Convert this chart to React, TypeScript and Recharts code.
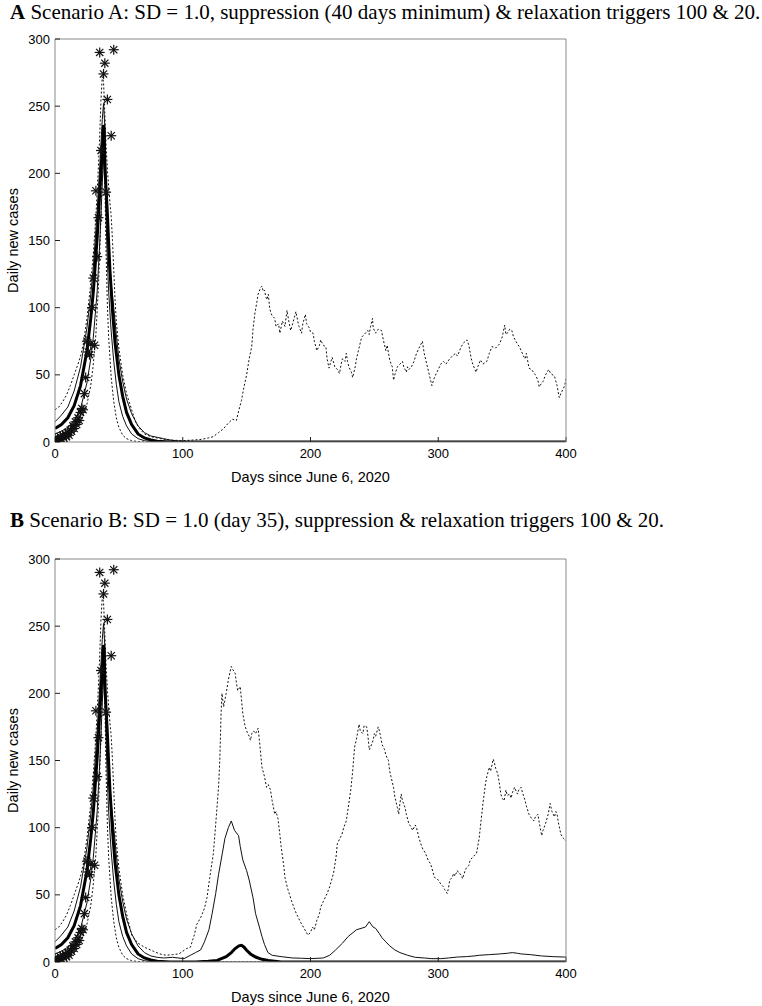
import { ComposedChart, Line, Scatter, XAxis, YAxis } from "recharts";

const SANS = "'Liberation Sans', Arial, Helvetica, sans-serif";
const SERIF = "'Liberation Serif', 'Times New Roman', serif";

const dayTicks = [0, 100, 200, 300, 400];
const caseTicks = [0, 50, 100, 150, 200, 250, 300];

type Pt = [number, number];

// observed daily cases (stars)
const observed: Pt[] = [
  [0, 3], [1, 1], [2, 2], [3, 0], [4, 4], [5, 2], [6, 5], [7, 3], [8, 6], [9, 4],
  [10, 7], [11, 5], [12, 9], [13, 8], [14, 12], [15, 10], [16, 15], [17, 13], [18, 18], [19, 16],
  [20, 22], [21, 25], [22, 24], [23, 36], [24, 48], [25, 75], [26, 67], [27, 65], [28, 73], [29, 100],
  [30, 122], [31, 72], [32, 187], [33, 138], [34, 167], [35, 290], [36, 217], [38, 274], [39, 282],
  [40, 186], [41, 255], [44, 228], [46, 292],
];

// median (thick)
const medianEarly: Pt[] = [
  [0, 10], [5, 13], [10, 18], [15, 27], [20, 42], [25, 68], [28, 92], [30, 112], [33, 152], [35, 185],
  [37, 218], [38, 236], [38.5, 232], [39, 205], [40, 188], [41, 170], [42, 148], [43, 128], [45, 98],
  [47, 74], [50, 50], [53, 34], [56, 22], [60, 13], [65, 6], [70, 3], [75, 1.5], [80, 0.6], [90, 0],
];
const medianTailA: Pt[] = [[400, 0]];
const medianTailB: Pt[] = [
  [110, 0], [120, 0.5], [127, 1.2], [134, 4], [138, 7], [141, 10], [144, 12], [146, 12.4], [148, 11],
  [150, 8.7], [153, 6], [157, 3.7], [162, 2], [167, 1.2], [177, 0], [400, 0],
];

// upper quartile (thin)
const q75Early: Pt[] = [
  [0, 15], [5, 20], [10, 26], [15, 38], [20, 56], [25, 85], [28, 110], [30, 130], [33, 172], [35, 205],
  [37, 240], [38, 252], [39, 235], [40, 198], [41, 160], [42, 132], [43, 122], [44, 118], [46, 100],
  [48, 80], [50, 62], [53, 45], [56, 32], [60, 21], [65, 12], [70, 7], [75, 4.5], [80, 3.5],
];
const q75TailA: Pt[] = [[85, 2.5], [90, 1.5], [95, 0.8], [100, 0.3], [105, 0], [400, 0]];
const q75TailB: Pt[] = [
  [85, 3], [92, 3.5], [101, 2.5], [106, 5], [110, 7], [114, 9], [117, 15], [120.5, 24], [123, 36],
  [125.8, 51], [128, 65], [131, 81], [133, 92], [135.7, 100], [138, 105], [140.5, 98], [143.7, 94],
  [145, 86], [147, 76], [150, 68], [152, 61], [155, 48], [157, 36], [160, 26], [162, 19], [164, 13],
  [166.7, 7], [170, 5], [177, 4], [186, 3], [193, 2.8], [200, 2.5], [210, 3], [215, 5], [219.7, 9],
  [225, 14], [229.5, 19], [236, 24], [243, 26], [246, 30], [249, 26], [251, 25], [254, 21], [256, 18],
  [259, 15], [262, 12], [266, 9], [270, 7], [276, 5], [282, 3.5], [289, 3], [295, 2.5], [302, 2.5],
  [308, 3], [315, 3.7], [322, 4], [328, 4.5], [332, 5], [340, 5.5], [348, 6], [354, 6.5], [358, 7],
  [362, 6.5], [365, 6], [372, 5.5], [381, 4.5], [390, 4], [398, 3.7], [400, 3.7],
];

// lower quartile (thin)
const q25: Pt[] = [
  [0, 6], [5, 8], [10, 11], [15, 16], [20, 25], [25, 44], [28, 62], [30, 78], [33, 112], [35, 148],
  [37, 192], [38, 214], [39, 200], [40, 165], [41, 135], [42, 112], [44, 82], [46, 60], [48, 43],
  [50, 30], [53, 19], [56, 12], [60, 6], [65, 2.5], [70, 1], [75, 0.3], [80, 0], [400, 0],
];

// lower 2.5% band (dashed)
const p025: Pt[] = [
  [0, 1], [5, 2], [10, 4], [15, 7], [20, 14], [25, 28], [28, 42], [30, 58], [32, 80], [34, 115],
  [36, 168], [37, 205], [38, 228], [39, 195], [40, 140], [41, 102], [42, 78], [44, 48], [46, 30],
  [48, 18], [50, 11], [53, 5], [56, 2.5], [60, 1], [65, 0.3], [70, 0], [400, 0],
];

// upper 97.5% band (dashed)
const p975Early: Pt[] = [
  [0, 24], [3, 26], [6, 30], [9, 35], [12, 42], [15, 50], [18, 58], [20, 64], [22, 72], [25, 92],
  [28, 118], [30, 140], [32, 168], [34, 205], [35, 228], [36, 255], [37, 272], [38, 268], [39, 245],
  [40, 220], [41, 203], [42, 190], [43, 178], [44, 168], [45, 150], [46, 128], [47, 106], [48, 90],
  [50, 70], [53, 50], [56, 36],
];
const p975TailA: Pt[] = [
  [60, 24], [63, 15], [66, 10], [70, 6], [75, 4], [80, 3], [85, 2], [90, 1.5], [100, 1], [109, 1.5],
  [115, 2], [120, 3], [124, 4], [128, 7], [132, 10], [135.6, 14], [139, 17], [142, 16], [144, 24],
  [146, 31], [147.5, 39], [150, 50], [152, 62], [154, 71], [155, 84], [156.5, 96], [158, 104],
  [159, 110], [161, 115], [162, 116], [163, 112], [164, 113], [165, 108], [166, 106], [167, 110],
  [168, 100], [169, 96], [170, 94], [172, 92], [173, 86], [175, 88], [176, 81], [178, 90], [180, 86],
  [181.6, 98], [183, 90], [184.5, 83], [186, 88], [188.6, 97], [190, 90], [191, 86], [193, 81],
  [194, 88], [196, 95], [197, 88], [199, 85], [200, 82], [202, 81], [203, 75], [205, 68], [207, 72],
  [208, 76], [210, 72], [212, 71], [213, 62], [214.5, 55], [216, 60], [217, 63], [219, 56], [221, 54],
  [222.7, 51], [224, 58], [225, 62], [227, 60], [228, 66], [229, 60], [230, 56], [232, 52], [233, 48],
  [235, 56], [236, 62], [238, 70], [240, 78], [242, 80], [244.8, 83], [246, 80], [247, 86],
  [248.6, 92], [249, 85], [251, 81], [253, 84], [255.6, 83], [257, 76], [259, 68], [260, 72],
  [262, 61], [264, 56], [265, 46], [266, 50], [268, 56], [270, 58], [272, 60], [273, 56], [275, 52],
  [276, 56], [277, 54], [279, 56], [281, 60], [283, 66], [285, 70], [287.6, 75], [289, 66], [291, 58],
  [293, 50], [295, 42], [297, 48], [300, 54], [302, 58], [304, 60], [306, 58], [309, 62], [311, 64],
  [313.5, 66], [315, 64], [318, 71], [320, 74], [322.5, 76], [324, 72], [325.6, 63], [327, 58],
  [329.6, 52], [331, 56], [333, 61], [335, 58], [338, 60], [340, 66], [342, 71], [345, 70], [348, 73],
  [350, 78], [352, 87], [353, 80], [354, 81], [356, 84], [357.6, 83], [359, 78], [362, 73], [364, 70],
  [366.7, 64], [368, 62], [369, 66], [371, 55], [373, 54], [376, 50], [378, 46], [379, 41], [381, 44],
  [382, 45], [384, 50], [386.5, 54], [388, 51], [391, 49], [393, 42], [394.7, 33], [396, 36],
  [397, 38], [399, 42], [400, 47],
];
const p975TailB: Pt[] = [
  [60, 20], [65, 14], [70, 11], [77, 8], [82, 6], [87, 5], [92, 5.5], [97, 6], [100, 8], [103, 10],
  [106, 11], [109, 20], [111, 28], [114, 33], [117, 40], [119, 48], [121, 62], [124, 81], [126, 105],
  [128, 130], [129, 150], [130, 185], [130.7, 200], [132, 190], [134, 200], [135.7, 210], [137, 216],
  [138, 220], [139, 218], [141, 215], [142, 208], [143, 202], [145, 205], [146, 195], [147, 185],
  [148.7, 176], [150, 172], [152, 168], [153, 165], [154, 170], [155.5, 172], [157, 170], [159, 174],
  [160, 165], [162, 145], [164, 138], [165.6, 130], [167, 132], [168.7, 128], [170, 120], [172, 110],
  [173, 112], [174.5, 107], [176, 95], [177, 86], [179, 72], [180, 63], [182, 55], [185, 46], [188, 38],
  [190, 34], [192, 30], [195, 25], [198, 20], [200, 22], [201.6, 26], [203, 24], [205, 31], [207, 36],
  [208, 41], [210, 45], [213, 51], [215, 56], [218, 66], [220, 78], [221, 88], [223, 92], [224.6, 95],
  [226, 100], [228, 105], [230, 118], [231.5, 128], [233, 142], [234.5, 160], [236, 166], [238, 177],
  [239, 172], [241, 170], [242, 176], [244, 175], [245, 168], [246, 158], [247, 160], [249, 165],
  [250, 170], [251, 168], [253, 175], [254, 172], [255, 167], [256, 162], [258, 158], [259, 154],
  [261, 150], [262, 142], [263, 138], [265, 130], [266, 123], [268, 115], [269, 110], [270, 118],
  [271, 125], [272, 120], [274, 115], [275, 110], [277, 103], [279, 100], [280, 98], [282, 102],
  [283, 100], [285, 92], [287, 86], [288, 84], [290, 81], [292, 76], [294, 73], [295, 70], [297, 63],
  [299, 62], [300, 61], [302, 58], [304, 56], [305, 54], [307, 51], [308, 55], [309, 61], [311, 63],
  [312, 66], [313, 64], [315, 68], [316, 66], [318, 65], [319, 62], [321, 68], [322, 70], [324, 72],
  [325, 76], [327, 78], [330, 81], [332, 92], [333.5, 105], [335, 118], [337, 133], [338, 138],
  [340, 145], [341, 142], [343, 151], [344, 148], [345, 144], [346.6, 140], [348, 132], [349, 125],
  [350, 122], [351.5, 120], [353, 128], [354, 124], [356, 125], [357, 122], [358, 126], [359.7, 130],
  [361, 127], [362, 125], [363, 128], [364.8, 130], [366, 126], [368, 120], [369, 116], [371, 110],
  [373, 107], [375, 105], [376, 108], [378, 110], [379, 104], [381, 94], [382, 98], [384, 103],
  [386, 110], [387.6, 118], [389, 112], [391, 108], [392, 112], [393, 110], [394, 104], [396, 95],
  [398, 92], [400, 90],
];

const toPts = (arr: Pt[]) => arr.map(([d, v]) => ({ d, v }));

function Star(props: any) {
  const { cx, cy } = props;
  if (cx == null || cy == null) return null;
  const r = 5;
  const k = r * 0.72;
  return (
    <g stroke="#111" strokeWidth={1.2}>
      <line x1={cx - r} y1={cy} x2={cx + r} y2={cy} />
      <line x1={cx} y1={cy - r} x2={cx} y2={cy + r} />
      <line x1={cx - k} y1={cy - k} x2={cx + k} y2={cy + k} />
      <line x1={cx - k} y1={cy + k} x2={cx + k} y2={cy - k} />
    </g>
  );
}

function YLabel(props: any) {
  const vb = props.viewBox || {};
  const cy = (vb.y ?? 39) + (vb.height ?? 403) / 2;
  return (
    <text x={13} y={cy} transform={`rotate(-90 13 ${cy})`} textAnchor="middle" dominantBaseline="central"
      fontSize={14.5} fontFamily={SANS} fill="#000">
      Daily new cases
    </text>
  );
}

interface PanelProps {
  upper: Pt[];
  q75: Pt[];
  median: Pt[];
}

function Panel({ upper, q75, median }: PanelProps) {
  const tickStyle = { fill: "#000", fontSize: 13, fontFamily: SANS };
  return (
    <ComposedChart width={762} height={490} margin={{ top: 38, right: 195, bottom: 0, left: 0 }}>
      <XAxis xAxisId="b" type="number" dataKey="d" domain={[0, 400]} allowDataOverflow ticks={dayTicks}
        tickSize={-5} tickMargin={12} height={48} axisLine={{ stroke: "#8a8a8a" }} tickLine={{ stroke: "#222" }}
        tick={tickStyle}
        label={{ value: "Days since June 6, 2020", position: "insideBottom", offset: 8, fontSize: 14.5, fontFamily: SANS, fill: "#000" }} />
      <XAxis xAxisId="t" orientation="top" type="number" dataKey="d" domain={[0, 400]} allowDataOverflow ticks={dayTicks}
        tickSize={-5} height={1} axisLine={{ stroke: "#8a8a8a" }} tickLine={{ stroke: "#222" }} tick={false} />
      <YAxis yAxisId="l" type="number" dataKey="v" domain={[0, 300]} allowDataOverflow ticks={caseTicks}
        tickSize={-5} tickMargin={10} width={55} axisLine={{ stroke: "#8a8a8a" }} tickLine={{ stroke: "#222" }}
        tick={tickStyle} label={{ content: YLabel }} />
      <YAxis yAxisId="r" orientation="right" type="number" domain={[0, 300]} allowDataOverflow ticks={caseTicks}
        tickSize={-5} width={1} axisLine={{ stroke: "#8a8a8a" }} tickLine={{ stroke: "#222" }} tick={false} />
      <Line xAxisId="b" yAxisId="l" data={toPts(p025)} dataKey="v" type="linear" dot={false} stroke="#111"
        strokeWidth={1} strokeDasharray="2 2" isAnimationActive={false} />
      <Line xAxisId="b" yAxisId="l" data={toPts(upper)} dataKey="v" type="linear" dot={false} stroke="#111"
        strokeWidth={1} strokeDasharray="2 2" isAnimationActive={false} />
      <Line xAxisId="b" yAxisId="l" data={toPts(q25)} dataKey="v" type="linear" dot={false} stroke="#111"
        strokeWidth={1} isAnimationActive={false} />
      <Line xAxisId="b" yAxisId="l" data={toPts(q75)} dataKey="v" type="linear" dot={false} stroke="#111"
        strokeWidth={1} isAnimationActive={false} />
      <Line xAxisId="b" yAxisId="l" data={toPts(median)} dataKey="v" type="linear" dot={false} stroke="#000"
        strokeWidth={3} isAnimationActive={false} />
      <Scatter xAxisId="b" yAxisId="l" data={toPts(observed)} dataKey="v" shape={Star} isAnimationActive={false} />
    </ComposedChart>
  );
}

function Title({ letter, text, baseline }: { letter: string; text: string; baseline: number }) {
  return (
    <svg width={762} height={30} style={{ display: "block" }}>
      <text x={10} y={baseline} fontFamily={SERIF} fontSize={21} fill="#000">
        <tspan fontWeight="bold">{letter}</tspan> {text}
      </text>
    </svg>
  );
}

export default function App() {
  return (
    <div style={{ position: "absolute", left: 0, top: 0, width: 762, height: 1006, overflow: "hidden", background: "#fff" }}>
      <div style={{ position: "absolute", left: 0, top: 0 }}>
        <Title letter="A" baseline={19}
          text="Scenario A: SD = 1.0, suppression (40 days minimum) & relaxation triggers 100 & 20." />
      </div>
      <div style={{ position: "absolute", left: 0, top: 0 }}>
        <Panel upper={[...p975Early, ...p975TailA]} q75={[...q75Early, ...q75TailA]} median={[...medianEarly, ...medianTailA]} />
      </div>
      <div style={{ position: "absolute", left: 0, top: 503 }}>
        <Title letter="B" baseline={24}
          text="Scenario B: SD = 1.0 (day 35), suppression & relaxation triggers 100 & 20." />
      </div>
      <div style={{ position: "absolute", left: 0, top: 520 }}>
        <Panel upper={[...p975Early, ...p975TailB]} q75={[...q75Early, ...q75TailB]} median={[...medianEarly, ...medianTailB]} />
      </div>
    </div>
  );
}
